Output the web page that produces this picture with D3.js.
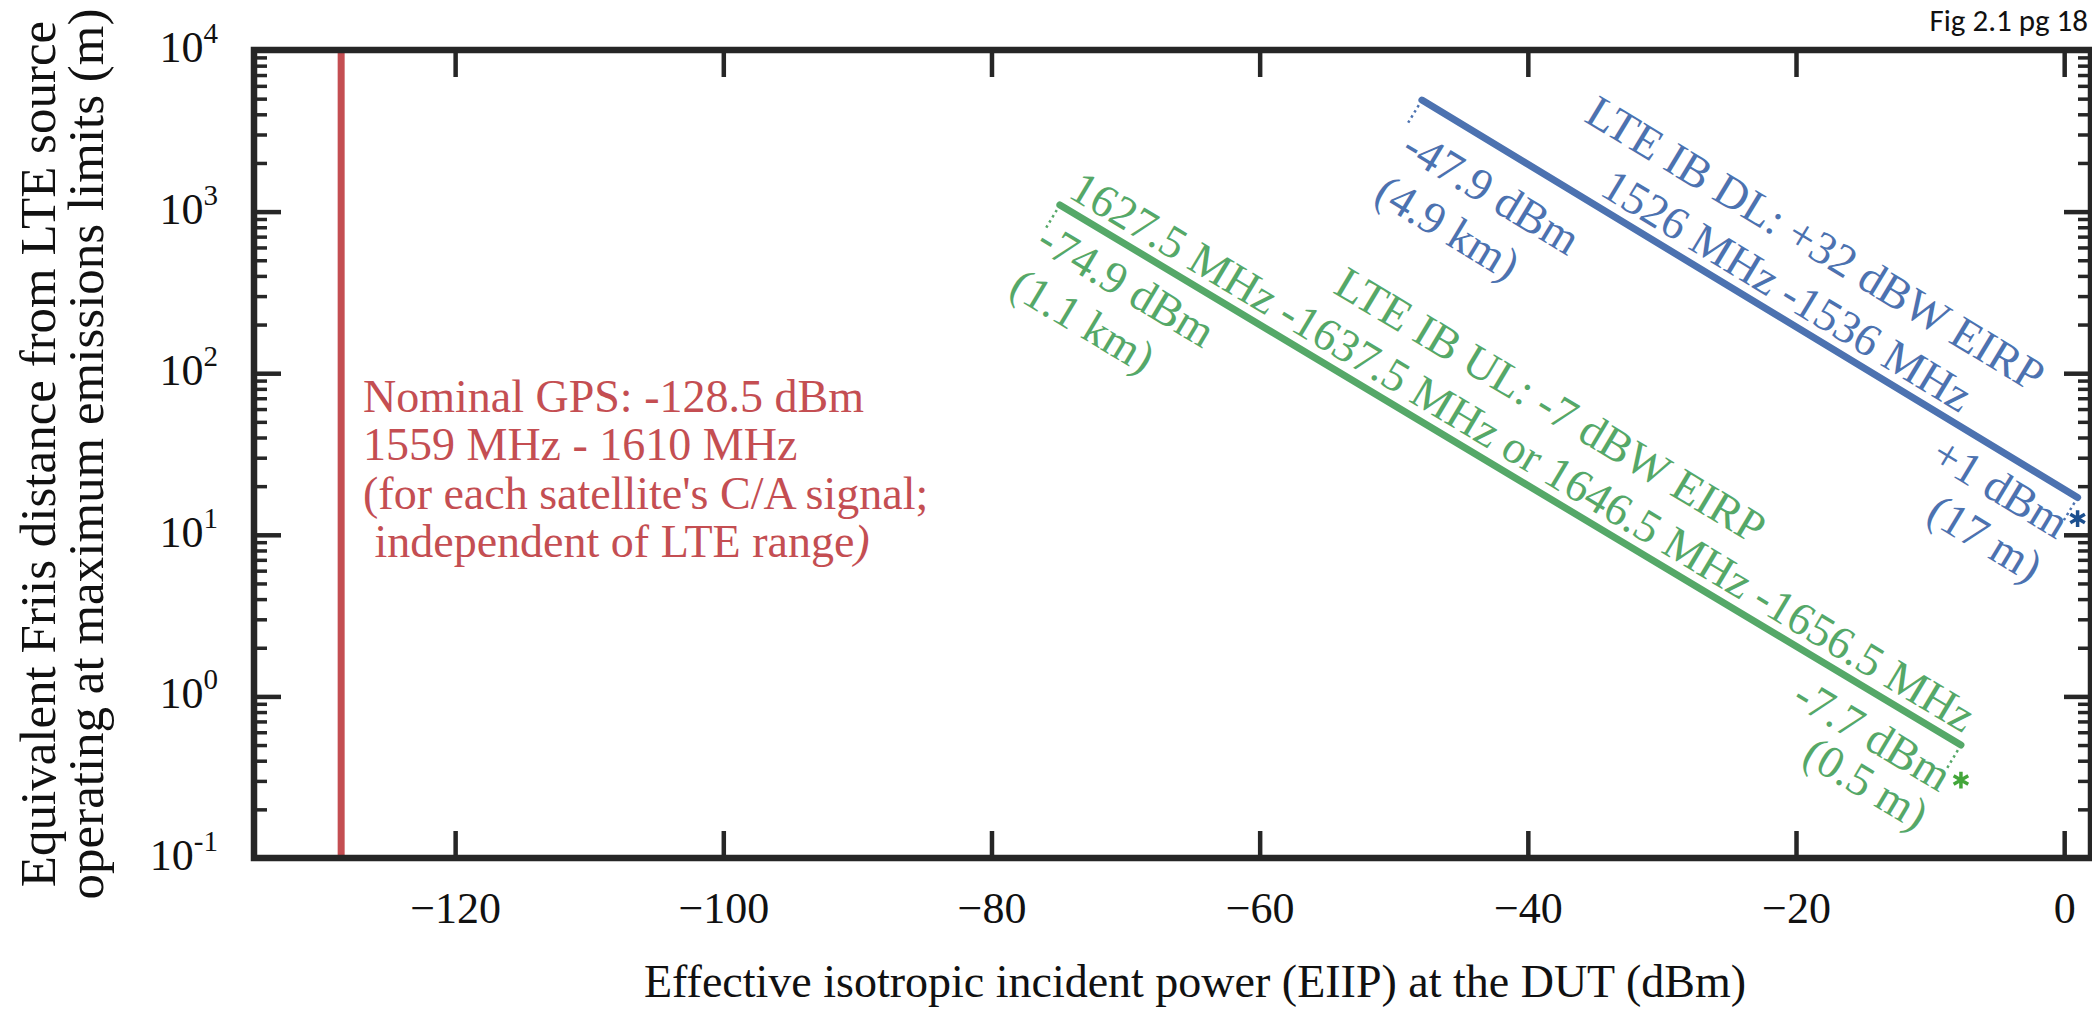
<!DOCTYPE html>
<html>
<head>
<meta charset="utf-8">
<script src="https://cdn.jsdelivr.net/npm/d3@7"></script>
<style>
  html, body { margin: 0; padding: 0; background: #fff; }
  svg { display: block; font-family: "Liberation Serif", "Times New Roman", serif; }
  text { white-space: pre; }
</style>
</head>
<body>
<svg width="2092" height="1010"></svg>
<script>
const svg = d3.select('svg')
const width = +svg.attr('width')
const height = +svg.attr('height')

// values
const xTickValues = [-120, -100, -80, -60, -40, -20, 0]
const yDecades = [-1, 0, 1, 2, 3, 4]

const gpsEiip = -128.5
const gpsLabel = ['Nominal GPS: -128.5 dBm', '1559 MHz - 1610 MHz', "(for each satellite's C/A signal;", ' independent of LTE range']

const dlEiip = [-47.9, 1]
const dlRange = [4900, 17]
const dlLabel = ['LTE IB DL: +32 dBW EIRP', '1526 MHz -1536 MHz']
const dlStartLabel = ['-47.9 dBm', '(4.9 km)']
const dlEndLabel = ['+1 dBm', '(17 m)']

const ulEiip = [-74.9, -7.7]
const ulRange = [1100, 0.5]
const ulLabel = ['LTE IB UL: -7 dBW EIRP', '1627.5 MHz -1637.5 MHz or 1646.5 MHz -1656.5 MHz']
const ulStartLabel = ['-74.9 dBm', '(1.1 km)']
const ulEndLabel = ['-7.7 dBm', '(0.5 m)']

const red = '#c44e52'
const blue = '#4c72b0'
const green = '#55a868'
const ink = '#262626'

const x = d3.scaleLinear().domain([-135, 2]).range([254, 2091])
const y = d3.scaleLog().domain([0.1, 1e4]).range([858, 50])

const majorLen = 27
const minorLen = 13
const minorValues = []
yDecades.slice(0, -1).forEach(e => d3.range(2, 10).forEach(m => minorValues.push(m * Math.pow(10, e))))

const styleTicks = (g, w) => {
	g.select('.domain').remove()
	g.selectAll('.tick line').attr('stroke', ink).attr('stroke-width', w)
}

// x axis, ticks pointing inward on bottom and top
const xAxisG = svg.append('g')
	.attr('transform', `translate(0,${y.range()[0]})`)
	.call(d3.axisBottom(x).tickValues(xTickValues).tickSize(-majorLen).tickPadding(34))
	.call(g => styleTicks(g, 4.5))
xAxisG.selectAll('.tick text')
	.attr('fill', '#111')
	.attr('font-size', 44)
	.attr('font-family', '"Liberation Serif", serif')

svg.append('g')
	.attr('transform', `translate(0,${y.range()[1]})`)
	.call(d3.axisTop(x).tickValues(xTickValues).tickSize(-majorLen).tickFormat(''))
	.call(g => styleTicks(g, 4.5))

// y axis, left and right, majors and minors
const leftX = x.range()[0]
const rightX = x.range()[1]
svg.append('g').attr('transform', `translate(${leftX},0)`)
	.call(d3.axisLeft(y).tickValues(yDecades.map(e => Math.pow(10, e))).tickSize(-majorLen).tickFormat(''))
	.call(g => styleTicks(g, 4.5))
svg.append('g').attr('transform', `translate(${leftX},0)`)
	.call(d3.axisLeft(y).tickValues(minorValues).tickSize(-minorLen).tickFormat(''))
	.call(g => styleTicks(g, 3.5))
svg.append('g').attr('transform', `translate(${rightX},0)`)
	.call(d3.axisRight(y).tickValues(yDecades.map(e => Math.pow(10, e))).tickSize(-majorLen).tickFormat(''))
	.call(g => styleTicks(g, 4.5))
svg.append('g').attr('transform', `translate(${rightX},0)`)
	.call(d3.axisRight(y).tickValues(minorValues).tickSize(-minorLen).tickFormat(''))
	.call(g => styleTicks(g, 3.5))

// y tick labels as 10^n
const yLabels = svg.append('g').selectAll('text')
	.data(yDecades)
	.enter()
	.append('text')
	.attr('x', 218)
	.attr('y', d => y(Math.pow(10, d)) + 12)
	.attr('text-anchor', 'end')
	.attr('fill', '#111')
	.attr('font-size', 44)
yLabels.append('tspan').text('10')
yLabels.append('tspan').attr('dy', -19).attr('font-size', 29).text(d => d)

// GPS line
svg.append('line')
	.attr('x1', x(gpsEiip)).attr('x2', x(gpsEiip))
	.attr('y1', y(0.1)).attr('y2', y(1e4))
	.attr('stroke', red)
	.attr('stroke-width', 7)

svg.append('text')
	.attr('font-size', 46)
	.attr('fill', red)
	.selectAll('tspan')
	.data(gpsLabel)
	.enter()
	.append('tspan')
	.attr('x', 363)
	.attr('y', (d, i) => 412 + i * 48.3)
	.text(d => d)
	.filter((d, i) => i === gpsLabel.length - 1)
	.append('tspan')
	.attr('font-style', 'italic')
	.text(')')

// LTE lines with labels
const series = [
	{
		eiip: dlEiip, range: dlRange, color: blue, star: '#1b4f8f', starDy: 21,
		mid: dlLabel, midAlong: 411, midPerp: [66, 11],
		start: dlStartLabel, startAlong: 9, startPerp: [-58, -111],
		end: dlEndLabel, endAlong: 4, endPerp: [-47, -98],
	},
	{
		eiip: ulEiip, range: ulRange, color: green, star: '#43a63a', starDy: 35,
		mid: ulLabel, midAlong: 524, midPerp: [65, 11],
		start: ulStartLabel, startAlong: 0, startPerp: [-50, -103],
		end: ulEndLabel, endAlong: 6, endPerp: [-52, -97],
	},
]

const line = d3.line()
	.x(d => x(d.eiip))
	.y(d => y(d.range))

series.forEach(s => {
	const pts = s.eiip.map((e, i) => ({ eiip: e, range: s.range[i] }))
	const p0 = [x(pts[0].eiip), y(pts[0].range)]
	const p1 = [x(pts[1].eiip), y(pts[1].range)]
	const ang = Math.atan2(p1[1] - p0[1], p1[0] - p0[0])
	const u = [Math.cos(ang), Math.sin(ang)]
	const n = [Math.sin(ang), -Math.cos(ang)]
	const deg = ang * 180 / Math.PI
	const at = (base, along, perp) => [base[0] + along * u[0] + perp * n[0], base[1] + along * u[1] + perp * n[1]]

	svg.append('path')
		.datum(pts)
		.attr('d', line)
		.attr('fill', 'none')
		.attr('stroke', s.color)
		.attr('stroke-width', 7)
		.attr('stroke-linecap', 'round')

	// dotted connectors at both ends
	;[p0, p1].forEach(p => {
		const a = at(p, 0, -6)
		const b = at(p, 0, -30)
		svg.append('line')
			.attr('x1', a[0]).attr('y1', a[1])
			.attr('x2', b[0]).attr('y2', b[1])
			.attr('stroke', s.color)
			.attr('stroke-width', 2.5)
			.attr('stroke-dasharray', '2.5,3.5')
	})

	svg.append('path')
		.attr('d', d3.symbol(d3.symbolAsterisk, 200)())
		.attr('transform', `translate(${p1[0]},${p1[1] + s.starDy})`)
		.attr('fill', 'none')
		.attr('stroke', s.star)
		.attr('stroke-width', 3.5)

	const put = (base, along, perps, lines, anchor) => {
		lines.forEach((t, i) => {
			const q = at(base, along, perps[i])
			svg.append('text')
				.attr('transform', `translate(${q[0]},${q[1]}) rotate(${deg})`)
				.attr('text-anchor', anchor)
				.attr('font-size', 46)
				.attr('fill', s.color)
				.text(t)
		})
	}
	put(p0, s.midAlong, s.midPerp, s.mid, 'middle')
	put(p0, s.startAlong, s.startPerp, s.start, 'start')
	put(p1, s.endAlong, s.endPerp, s.end, 'end')
})

// frame
svg.append('rect')
	.attr('x', leftX).attr('y', y.range()[1])
	.attr('width', rightX - leftX)
	.attr('height', y.range()[0] - y.range()[1])
	.attr('fill', 'none')
	.attr('stroke', ink)
	.attr('stroke-width', 6.5)

// axis titles
svg.append('text')
	.attr('x', 1195).attr('y', 997)
	.attr('text-anchor', 'middle')
	.attr('font-size', 46)
	.attr('fill', '#111')
	.text('Effective isotropic incident power (EIIP) at the DUT (dBm)')

const yTitle = ['Equivalent Friis distance from LTE source', 'operating at maximum emissions limits (m)']
svg.append('g').selectAll('text')
	.data(yTitle)
	.enter()
	.append('text')
	.attr('transform', (d, i) => `translate(${55 + i * 48},${(y.range()[0] + y.range()[1]) / 2}) rotate(-90)`)
	.attr('text-anchor', 'middle')
	.attr('font-size', 51)
	.attr('fill', '#111')
	.text(d => d)

svg.append('text')
	.attr('x', 2088).attr('y', 31)
	.attr('text-anchor', 'end')
	.attr('font-family', 'Carlito, Lato, "Open Sans", sans-serif')
	.attr('font-size', 31)
	.attr('fill', '#111')
	.text('Fig 2.1 pg 18')
</script>
</body>
</html>
